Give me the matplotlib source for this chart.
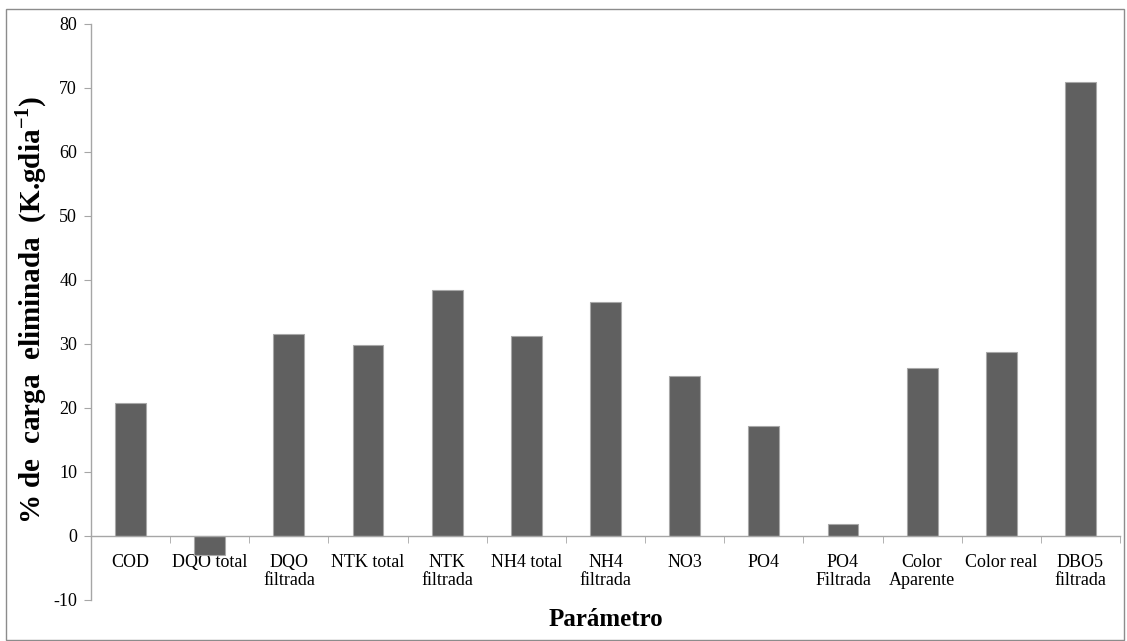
import numpy as np
import matplotlib
matplotlib.use("Agg")
import matplotlib.pyplot as plt
from matplotlib.patches import Rectangle

# data
categories = ["COD", "DQO total", "DQO\nfiltrada", "NTK total", "NTK\nfiltrada",
              "NH4 total", "NH4\nfiltrada", "NO3", "PO4", "PO4\nFiltrada",
              "Color\nAparente", "Color real", "DBO5\nfiltrada"]
removed = [20.8, -3.0, 31.5, 29.8, 38.4, 31.2, 36.6, 25.0, 17.2, 1.9, 26.3, 28.7, 71.0]
yticks = [-10, 0, 10, 20, 30, 40, 50, 60, 70, 80]

plt.rcParams['font.family'] = ['Liberation Serif', 'DejaVu Serif']
plt.rcParams['mathtext.fontset'] = 'custom'
plt.rcParams['mathtext.rm'] = 'Liberation Serif'
plt.rcParams['mathtext.bf'] = 'Liberation Serif:bold'
plt.rcParams['axes.unicode_minus'] = False

fig = plt.figure(figsize=(11.27, 6.41), dpi=100)
ax = fig.add_axes([91/1127, 1-600/641, (1120-91)/1127, (600-24)/641])

x = np.arange(len(categories))
ax.bar(x, removed, width=0.39, color='#606060', edgecolor='#a8a8a8', linewidth=0.8, zorder=2)

ax.set_xlim(-0.5, len(categories)-0.5)
ax.set_ylim(-10, 80)
ax.set_yticks(yticks)

for s in ['top', 'right']:
    ax.spines[s].set_visible(False)
ax.spines['left'].set_color('#a6a6a6')
ax.spines['bottom'].set_color('#a6a6a6')
ax.spines['bottom'].set_position(('data', 0))
ax.spines['left'].set_linewidth(1.0)
ax.spines['bottom'].set_linewidth(1.0)

ax.tick_params(axis='y', direction='out', length=5, color='#a6a6a6', labelsize=13, pad=5)
ax.set_xticks(x)
ax.set_xticklabels(categories, fontsize=13, linespacing=1.05)
ax.tick_params(axis='x', which='major', length=0, pad=13)
ax.set_xticks(np.arange(len(categories)+1) - 0.5, minor=True)
ax.tick_params(axis='x', which='minor', direction='out', length=5, color='#a6a6a6')

fig.text(31/1127, 1-310/641, r'% de  carga  eliminada  (K.gdia$^{\mathbf{-1}}$)',
         rotation=90, ha='center', va='center', fontsize=21, fontweight='bold')
fig.text(606/1127, 1-620/641, 'Parámetro', ha='center', va='center',
         fontsize=18, fontweight='bold')

fig.patches.append(Rectangle((6/1127, 1/641), 1118/1127, 1-10/641, transform=fig.transFigure,
                             fill=False, edgecolor='#8c8c8c', linewidth=1.0))

fig.savefig('out.png', dpi=100)
